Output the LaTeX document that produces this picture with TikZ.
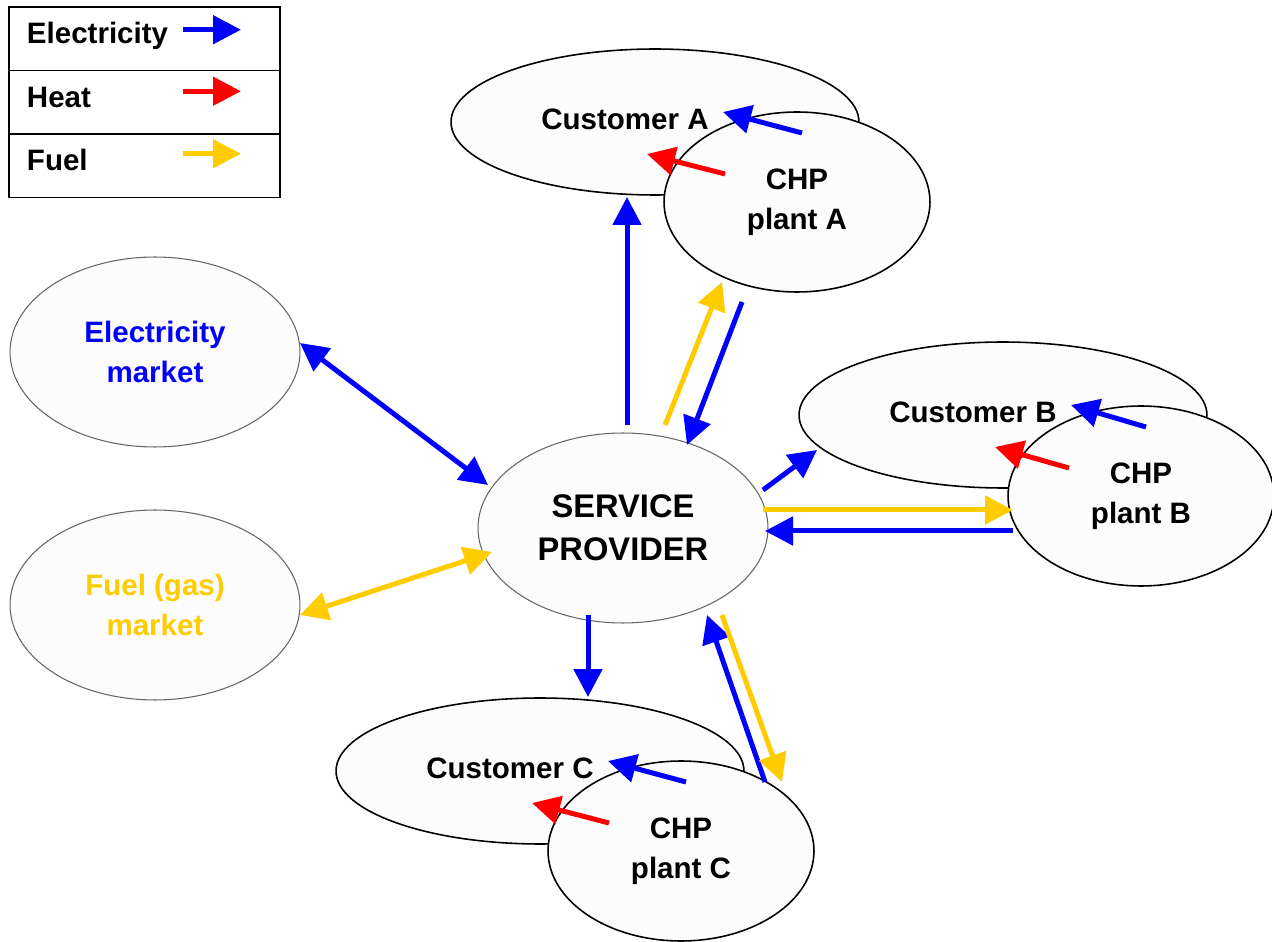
\documentclass[tikz,border=0pt]{standalone}
\usepackage{fontspec}
\setmainfont{Liberation Sans}
\usetikzlibrary{arrows.meta,calc,shapes.geometric}

\definecolor{elecblue}{RGB}{0,0,255}
\definecolor{heatred}{RGB}{255,0,0}
\definecolor{fuelyellow}{RGB}{255,204,0}
\definecolor{shapefill}{RGB}{252,252,252}

\begin{document}
\begin{tikzpicture}[
    x=0.02cm, y=-0.02cm, % 1 unit = 1 pixel of the sketch, y runs down
    font=\fontsize{16.8}{22.8}\selectfont\bfseries,
    >={Triangle[length=0.56cm, width=0.56cm]},
    flow/.style={line width=0.1cm, ->},
    elec/.style={flow, elecblue},
    heat/.style={flow, heatred},
    fuel/.style={flow, fuelyellow},
    market/.style={ellipse, draw=black!60, line width=0.6pt, fill=shapefill,
        minimum width=5.8cm, minimum height=3.8cm, inner sep=0pt, align=center},
    customer/.style={ellipse, draw, line width=0.9pt, fill=shapefill,
        minimum width=8.16cm, minimum height=2.92cm, inner sep=0pt},
    plant/.style={ellipse, draw, line width=0.9pt, fill=shapefill,
        minimum width=5.32cm, minimum height=3.6cm, inner sep=0pt, align=center},
    legrow/.style={draw, line width=0.9pt, rectangle, anchor=north west, outer sep=0pt,
        minimum height=1.27cm, text width=4.7cm, inner xsep=0.36cm, align=left,
        text height=0.73em, text depth=0.15em}
    ]
    \path[use as bounding box, fill=white] (0,0) rectangle (1272,942);

    % --- legend ---
    \node[legrow] (legElec) at (9,7) {Electricity};
    \node[legrow] (legHeat) at (legElec.south west) {Heat};
    \node[legrow] (legFuel) at (legHeat.south west) {Fuel};
    \draw[elec] ($(legElec.west)+(174,-9)$) -- +(58,0);
    \draw[heat] ($(legHeat.west)+(174,-11)$) -- +(58,0);
    \draw[fuel] ($(legFuel.west)+(174,-12)$) -- +(58,0);

    % --- markets and service provider ---
    \node[market, text=elecblue] (elecmkt) at (155,352) {Electricity\\market};
    \node[market, text=fuelyellow] (fuelmkt) at (155,605) {Fuel (gas)\\market};
    \node[market, font=\fontsize{18.6}{24.5}\selectfont\bfseries] (sp) at (623,528) {SERVICE\\PROVIDER};

    % --- customers with their CHP plants ---
    \node[customer, label={[xshift=-0.6cm, yshift=0.06cm]center:Customer A}] (custA) at (655,122) {};
    \node[plant] (chpA) at (797,202) {CHP\\plant A};
    \node[customer, label={[xshift=-0.6cm, yshift=0.06cm]center:Customer B}] (custB) at (1003,415) {};
    \node[plant] (chpB) at (1141,496) {CHP\\plant B};
    \node[customer, label={[xshift=-0.6cm, yshift=0.06cm]center:Customer C}] (custC) at (540,771) {};
    \node[plant] (chpC) at (681,851) {CHP\\plant C};

    % 1. trading with the markets
    \draw[elec, <->] ($(elecmkt)+(145,-9)$) -- ($(sp)+(-135,-43)$);
    \draw[fuel, <->] ($(fuelmkt)+(145,10)$) -- ($(sp)+(-131,24)$);

    % 2. site A
    \draw[elec] ($(sp)+(4,-103)$) -- ($(custA)+(-28,75)$);
    \draw[fuel] ($(sp)+(42,-103)$) -- ($(chpA)+(-75,80)$);
    \draw[elec] ($(chpA)+(-55,100)$) -- ($(sp)+(64,-83)$);

    % 3. site B
    \draw[elec] ($(sp)+(140,-38)$) -- ($(custB)+(-186,35)$);
    \draw[fuel] ($(sp)+(140,-18)$) -- ($(chpB)+(-128,14)$);
    \draw[elec] ($(chpB)+(-128,35)$) -- ($(sp)+(142,3)$);

    % 4. site C
    \draw[elec] ($(sp)+(-35,87)$) -- ($(custC)+(48,-74)$);
    \draw[elec] ($(chpC)+(84,-69)$) -- ($(sp)+(84,87)$);
    \draw[fuel] ($(sp)+(99,87)$) -- ($(chpC)+(101,-69)$);

    % 5. each plant feeds its own customer
    \foreach \s in {A,B,C} {
        \draw[elec] ($(chp\s)+(5,-69)$) -- ($(cust\s)+(68,-10)$);
        \draw[heat] ($(chp\s)+(-72,-28)$) -- ($(cust\s)+(-8,32)$);
    }

\end{tikzpicture}
\end{document}
